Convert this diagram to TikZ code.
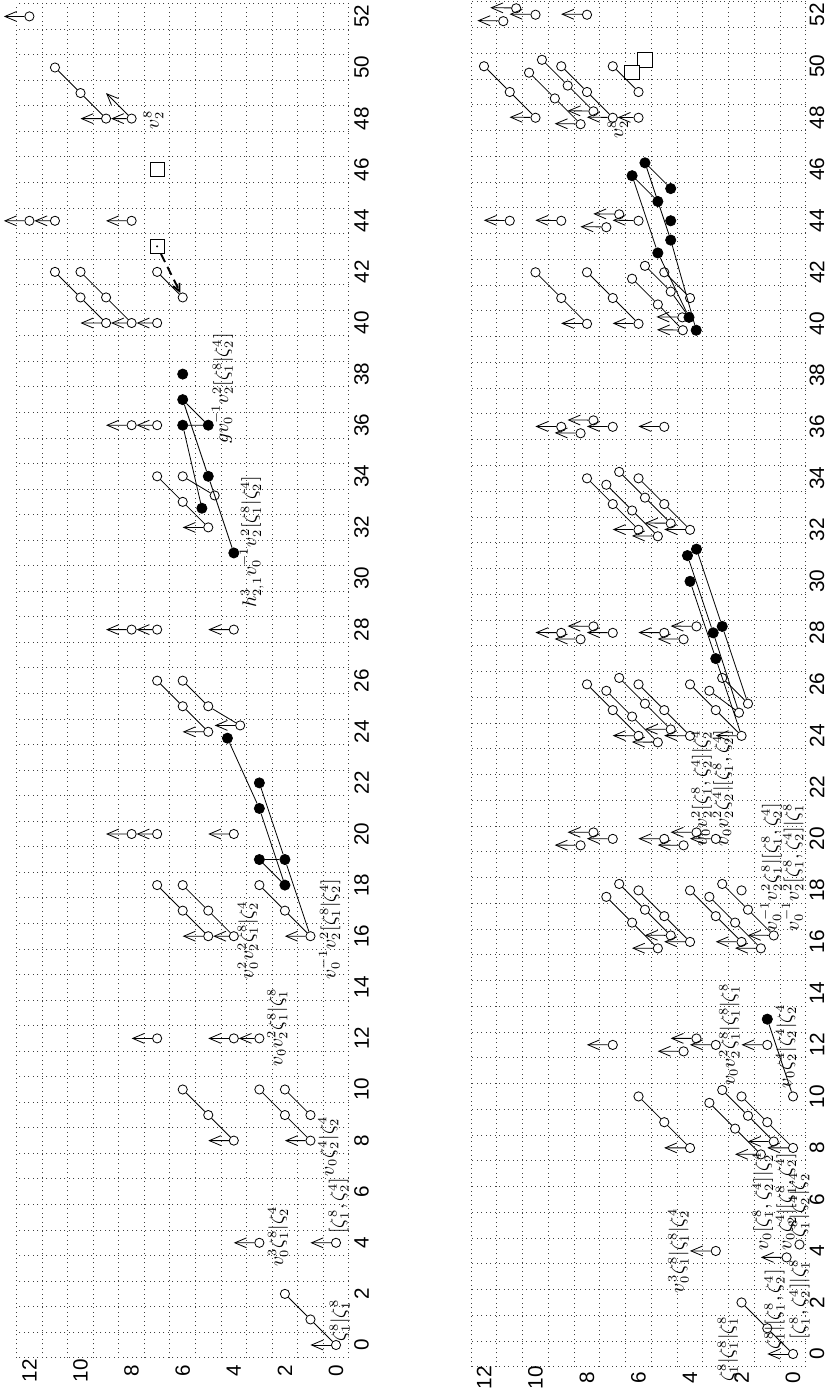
\documentclass[tikz,border=0pt]{standalone}
\usepackage{fontspec}
\setsansfont{Liberation Sans}
\usetikzlibrary{arrows.meta}
\tikzstyle{chartgrid}=[dotted, line width=0.5pt, black!75]
\tikzstyle{odot}=[circle, draw, line width=0.45pt, fill=white, inner sep=0pt, minimum size=1.8mm]
\tikzstyle{fdot}=[circle, draw, fill=black, inner sep=0pt, minimum size=2mm]
\tikzstyle{sqbox}=[rectangle, draw, line width=0.5pt, fill=white, inner sep=0pt, minimum size=2.8mm]
\tikzstyle{hmul}=[line width=0.45pt]
\tikzstyle{tower}=[-{Straight Barb[length=6.5pt,width=5.5pt]}, line width=0.45pt]
\tikzstyle{axnum}=[font=\sffamily\fontsize{11.5}{13}\selectfont]
\tikzstyle{gen}=[font=\fontsize{10.5}{12}\selectfont, anchor=west, inner sep=0pt]

\begin{document}
\begin{tikzpicture}[x=5mm, y=5mm]
  \useasboundingbox (0,0) rectangle (32.5,54.49);

  % left chart, turned a quarter turn
  \begin{scope}[shift={(13.125,1.953)}, rotate=90, scale=0.998, transform shape]
    \foreach \i in {-0.5,0.5,...,52.5} \draw[chartgrid] (\i,-0.5) -- (\i,12.5);
    \foreach \j in {-0.5,0.5,...,12.5} \draw[chartgrid] (-0.5,\j) -- (52.5,\j);
    \foreach \i in {0,2,...,52} \node[axnum] (Lxn\i) at (\i,-1) {\i};
    \foreach \j in {0,2,...,12} \node[axnum] (Lyn\j) at (-1,\j) {\j};

    % classes
    \foreach \x/\y in {52/12,50/11,49/10,48/9,48/8,44/12,44/11,44/8,42/11,42/10,42/7,41/10,41/9,41/6,
      40/9,40/8,40/7,36/8,36/7,34/7,34/6,33/6,32/5,28/8,28/7,28/4,26/7,26/6,25/6,25/5,24/5,20/8,20/7,
      20/4,18/7,18/6,18/3,17/6,17/5,17/2,16/5,16/4,16/1,12/7,12/4,12/3,10/6,10/3,10/2,9/5,9/2,9/1,
      8/4,8/1,4/3,4/0,2/2,1/1,0/0}
      \node[odot] (L\x x\y) at (\x,\y) {};
    \node[odot] (L33x5a) at (33.25,4.75) {};
    \node[odot] (L24x4a) at (24.25,3.75) {};
    \foreach \x/\y in {38/6,37/6,36/6,36/5,34/5,31/4,22/3,21/3,19/3,19/2,18/2}
      \node[fdot] (L\x x\y) at (\x,\y) {};
    \node[fdot] (L33x5b) at (32.75,5.25) {};
    \node[fdot] (L24x4b) at (23.75,4.25) {};
    \node[sqbox] (L46x7) at (46,7) {};
    \node[sqbox] (L43x7) at (43,7) {};
    \fill (L43x7.center) circle (0.6pt);

    % h1 lines and other products
    \foreach \a/\b in {50x11/49x10,49x10/48x9,42x11/41x10,41x10/40x9,42x10/41x9,41x9/40x8,42x7/41x6,
      34x7/33x6,33x6/32x5,34x6/33x5a,26x7/25x6,25x6/24x5,26x6/25x5,25x5/24x4a,18x7/17x6,17x6/16x5,
      18x6/17x5,17x5/16x4,18x3/17x2,17x2/16x1,10x6/9x5,9x5/8x4,10x3/9x2,9x2/8x1,10x2/9x1,2x2/1x1,
      1x1/0x0,37x6/36x5,36x6/36x5,37x6/34x5,36x6/33x5b,34x5/31x4,24x4b/21x3,21x3/18x2,22x3/19x2,
      19x2/16x1,19x3/19x2,19x3/18x2}
      \draw[hmul] (L\a) -- (L\b);

    % towers
    \foreach \a/\b in {48x8/48x9,44x11/44x12,40x8/40x9,40x7/40x8,36x7/36x8,28x7/28x8,20x7/20x8,
      16x4/16x5,12x3/12x4}
      \draw[tower] (L\a) -- (L\b);
    \foreach \a in {52x12,48x9,44x12,44x8,40x9,36x8,32x5,28x8,28x4,24x5,24x4a,20x8,20x4,16x5,16x1,
      12x7,12x4,8x4,8x1,4x3,4x0,0x0}
      {\path (L\a) ++(0,1) coordinate (L\a t); \draw[tower] (L\a) -- (L\a t);}
    \path (L48x8) ++(1,1) coordinate (L49x9t);
    \draw[tower] (L48x8) -- (L49x9t);
    \draw[line width=1.1pt, dash pattern=on 5pt off 3pt, -{Straight Barb[length=4pt,width=4pt]}]
      (L43x7) -- (L41x6);

    % names
    \node[gen, anchor=center] (Lv28) at (47.95,7.15) {$v_2^8$};
    \node[gen] (Lg) at (35.25,4.45) {$gv_0^{-1}v_2^2[\zeta_1^8|\zeta_2^4]$};
    \node[gen] (Lh) at (28.85,3.3) {$h_{2,1}^3v_0^{-1}v_2^2[\zeta_1^8|\zeta_2^4]$};
    \node[gen] (L16n) at (14.3,0.25) {$v_0^{-1}v_2^2[\zeta_1^8|\zeta_2^4]$};
    \node[gen] (L16m) at (14.3,3.45) {$v_0^2v_2^2\zeta_1^8|\zeta_2^4$};
    \node[gen] (L12n) at (10.9,2.3) {$v_0v_2^2\zeta_1^8|\zeta_1^8$};
    \node[gen] (L8n) at (6.6,0.3) {$v_0\zeta_2^4|\zeta_2^4$};
    \node[gen] (L4m) at (3.05,2.27) {$v_0^3\zeta_1^8|\zeta_2^4$};
    \node[gen] (L4n) at (4.35,-0.1) {$[\zeta_1^8,\zeta_2^4]$};
    \node[gen] (L0n) at (0.12,-0.15) {$\zeta_1^8|\zeta_1^8$};
  \end{scope}

  % right chart, turned a quarter turn
  \begin{scope}[shift={(30.977,1.602)}, rotate=90, scale=1.006, transform shape]
    \foreach \i in {-0.5,0.5,...,52.5} \draw[chartgrid] (\i,-0.5) -- (\i,12.5);
    \foreach \j in {-0.5,0.5,...,12.5} \draw[chartgrid] (-0.5,\j) -- (52.5,\j);
    \foreach \i in {0,2,...,52} \node[axnum] (Rxn\i) at (\i,-0.93) {\i};
    \foreach \j in {0,2,...,12} \node[axnum] (Ryn\j) at (-0.93,\j) {\j};

    % classes
    \foreach \x/\y in {52/10,52/8,50/12,50/9,50/7,49/11,49/8,49/6,48/10,48/7,48/6,44/11,44/9,44/6,
      42/10,42/8,42/5,41/9,41/7,41/4,40/8,40/6,36/9,36/7,36/5,34/8,34/6,33/7,33/5,32/6,32/4,28/9,
      28/7,28/5,26/8,26/6,26/4,25/7,25/5,25/3,24/6,24/4,24/2,20/7,20/5,20/3,18/6,18/4,18/2,17/5,
      17/3,16/4,16/2,12/7,12/3,12/1,10/6,10/2,10/0,9/5,9/1,8/4,8/0,4/3,2/2,1/1,0/0}
      \node[odot] (R\x x\y) at (\x,\y) {};
    \foreach \x/\y in {52/11,50/10,49/9,48/8,44/7,42/6,41/5,36/8,34/7,33/6,32/5,28/8,28/4,26/7,
      26/3,25/6,24/5,20/8,20/4,18/7,18/3,17/6,17/2,16/5,16/1,12/4,10/3,9/2,8/1,4/0}
      {\node[odot] (R\x x\y a) at ({\x+0.25},{\y-0.25}) {};
       \node[odot] (R\x x\y b) at ({\x-0.25},{\y+0.25}) {};}
    \node[odot] (R40x4a) at (40.25,4.3) {};
    \node[odot] (R40x4b) at (39.75,4.28) {};
    \node[odot] (R25x2a) at (25.25,1.75) {};
    \node[odot] (R25x2) at (24.9,2.1) {};
    \foreach \x/\y in {46/6,45/5,43/5}
      {\node[fdot] (R\x x\y a) at ({\x+0.25},{\y-0.25}) {};
       \node[fdot] (R\x x\y b) at ({\x-0.25},{\y+0.25}) {};}
    \foreach \x/\y in {30/4,27/3,13/1}
      \node[fdot] (R\x x\y) at (\x,\y) {};
    \node[fdot] (R44x5) at (44,4.75) {};
    \node[fdot] (R40x4f) at (40.25,4.04) {};
    \node[fdot] (R40x4g) at (39.75,3.76) {};
    \node[fdot] (R31x4a) at (31.25,3.75) {};
    \node[fdot] (R31x4) at (31,4.1) {};
    \node[fdot] (R28x3a) at (28.25,2.75) {};
    \node[fdot] (R28x3) at (28,3.1) {};
    \node[sqbox] (R50x6a) at (50.25,5.75) {};
    \node[sqbox] (R50x6b) at (49.75,6.25) {};

    % h1 lines and other products
    \foreach \a/\b in {50x12/49x11,49x11/48x10,50x10a/49x9a,49x9a/48x8a,50x10b/49x9b,49x9b/48x8b,
      50x9/49x8,49x8/48x7,50x7/49x6,42x10/41x9,41x9/40x8,42x8/41x7,41x7/40x6,42x6a/41x5a,41x5a/40x4f,
      42x6b/41x5b,41x5b/40x4b,42x5/41x4,34x7a/33x6a,33x6a/32x5a,34x8/33x7,33x7/32x6,34x6/33x5,
      33x5/32x4,34x7b/33x6b,33x6b/32x5b,26x8/25x7,25x7/24x6,26x7a/25x6a,25x6a/24x5a,26x7b/25x6b,
      25x6b/24x5b,26x6/25x5,25x5/24x4,26x4/25x3,25x3/24x2,26x3a/25x2a,26x3b/25x2,18x7a/17x6a,
      17x6a/16x5a,18x7b/17x6b,17x6b/16x5b,18x6/17x5,17x5/16x4,18x4/17x3,17x3/16x2,18x3a/17x2a,
      17x2a/16x1a,18x3b/17x2b,17x2b/16x1b,10x6/9x5,9x5/8x4,10x3a/9x2a,9x2a/8x1a,10x3b/9x2b,
      9x2b/8x1b,10x2/9x1,9x1/8x0,2x2/1x1,1x1/0x0,46x6a/45x5a,46x6b/45x5b,46x6a/43x5a,46x6b/43x5b,
      43x5a/40x4g,43x5b/40x4f,31x4a/28x3a,31x4/28x3,30x4/27x3,28x3a/25x2a,28x3/25x2,27x3/24x2,
      13x1/10x0}
      \draw[hmul] (R\a) -- (R\b);

    % towers
    \draw[tower] (R48x6) -- (R48x7);
    \foreach \a in {52x11a,52x11b,52x10,52x8,48x10,48x8a,48x8b,48x7,44x11,44x9,44x7a,44x7b,44x6,
      40x8,40x6,40x4a,40x4b,36x8a,36x9,36x7,36x8b,36x5,32x5a,32x6,32x4,32x5b,28x8a,28x9,28x7,28x8b,
      28x4a,28x5,28x4b,24x5a,24x6,24x4,24x5b,24x2,20x8a,20x7,20x8b,20x5,20x4a,20x3,20x4b,16x5a,
      16x5b,16x4,16x2,16x1a,16x1b,12x7,12x4a,12x3,12x4b,12x1,8x4,8x1a,8x0,8x1b,4x3,4x0b,0x0}
      {\path (R\a) ++(0,1) coordinate (R\a t); \draw[tower] (R\a) -- (R\a t);}

    % names
    \node[gen, anchor=center] (Rv28) at (47.55,6.8) {$v_2^8$};
    \node[gen] (R20n) at (19.7,3.55) {$v_0v_2^2[\zeta_1^8,\zeta_2^4]|\zeta_2^4$};
    \node[gen] (R20m) at (19.7,2.72) {$v_0v_2^2\zeta_2^4|[\zeta_1^8,\zeta_2^4]$};
    \node[gen] (R16n) at (16.4,0.85) {$v_0^{-1}v_2^2\zeta_1^8|[\zeta_1^8,\zeta_2^4]$};
    \node[gen] (R16m) at (16.4,0.01) {$v_0^{-1}v_2^2[\zeta_1^8,\zeta_2^4]|\zeta_1^8$};
    \node[gen] (R12n) at (10.4,2.47) {$v_0v_2^2\zeta_1^8|\zeta_1^8|\zeta_1^8$};
    \node[gen] (R12m) at (10.3,0.27) {$v_0\zeta_2^4|\zeta_2^4|\zeta_2^4$};
    \node[gen] (R4n) at (2.35,4.45) {$v_0^3\zeta_1^8|\zeta_1^8|\zeta_2^4$};
    \node[gen] (R4m) at (4.0,1.17) {$v_0[\zeta_1^8,\zeta_2^4]|\zeta_2^4$};
    \node[gen] (R4k) at (4.0,0.27) {$v_0\zeta_2^4|[\zeta_1^8,\zeta_2^4]$};
    \node[gen] (R4j) at (4.5,-0.24) {$\zeta_1^8|\zeta_2^4|\zeta_2^4$};
    \node[gen] (R0n) at (-1.1,2.53) {$\zeta_1^8|\zeta_1^8|\zeta_1^8$};
    \node[gen] (R0m) at (0.16,0.72) {$\zeta_1^8|[\zeta_1^8,\zeta_2^4]$};
    \node[gen] (R0k) at (0.54,-0.25) {$[\zeta_1^8,\zeta_2^4]|\zeta_1^8$};
  \end{scope}
\end{tikzpicture}
\end{document}
